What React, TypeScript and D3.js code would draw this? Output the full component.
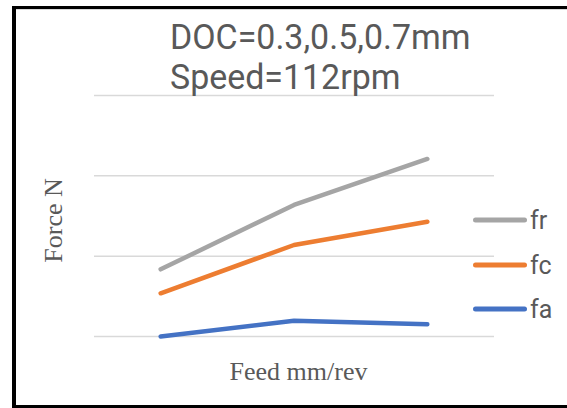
import React from "react";
import * as d3 from "d3";

// Feed levels (categorical x positions, no tick labels drawn)
const feeds = ["1", "2", "3"];

// Force series (N)
const frValues = [83.6, 163.7, 221];
const fcValues = [53.8, 113.9, 142.9];
const faValues = [0, 19.7, 15.2];

// Gridline values
const yTicks = [0, 100, 200, 300];

const seriesNames = ["fr", "fc", "fa"];
const seriesColors = ["#A5A5A5", "#ED7D31", "#4472C4"];

const W = 567;
const H = 408;

export default function App() {
  const x = d3.scalePoint<string>().domain(feeds).range([94, 494]).padding(0.5);
  const y = d3.scaleLinear().domain([0, 300]).range([336.5, 95.5]);

  const line = d3
    .line<number>()
    .x((_, i) => x(feeds[i]) as number)
    .y((v) => y(v));

  const series = [frValues, fcValues, faValues];
  const legendY = [220, 265, 309];
  const textColor = "#595959";
  const sans = "Roboto, 'Noto Sans', sans-serif";
  const serif = "'Liberation Serif', 'Times New Roman', serif";

  return (
    <svg
      width={W}
      height={H}
      style={{ position: "absolute", left: 0, top: 0, display: "block", background: "#fff" }}
    >
      {/* outer frame */}
      <line x1={12} x2={W} y1={9.5} y2={9.5} stroke="#D9D9D9" strokeWidth={1} />
      <line x1={12} x2={W} y1={7.5} y2={7.5} stroke="#000" strokeWidth={3} />
      <line x1={12} x2={W} y1={406.5} y2={406.5} stroke="#000" strokeWidth={3} />
      <line x1={14} x2={14} y1={6} y2={408} stroke="#000" strokeWidth={4} />

      {/* gridlines */}
      {yTicks.map((t) => (
        <line
          key={t}
          x1={94}
          x2={494}
          y1={y(t)}
          y2={y(t)}
          stroke="#D9D9D9"
          strokeWidth={1.5}
        />
      ))}

      {/* title */}
      <text
        x={170}
        y={49}
        fontFamily={sans}
        fontSize={35}
        fill={textColor}
        transform="translate(170,0) scale(0.97,1) translate(-170,0)"
      >
        DOC=0.3,0.5,0.7mm
      </text>
      <text
        x={170}
        y={89}
        fontFamily={sans}
        fontSize={35}
        fill={textColor}
        transform="translate(170,0) scale(0.97,1) translate(-170,0)"
      >
        Speed=112rpm
      </text>

      {/* series lines */}
      {series.map((vals, i) => (
        <path
          key={seriesNames[i]}
          d={line(vals) || ""}
          fill="none"
          stroke={seriesColors[i]}
          strokeWidth={4.5}
          strokeLinecap="round"
          strokeLinejoin="round"
        />
      ))}

      {/* axis titles */}
      <text
        x={298.5}
        y={380}
        textAnchor="middle"
        fontFamily={serif}
        fontSize={26}
        fill={textColor}
      >
        Feed mm/rev
      </text>
      <text
        transform="translate(62,220.5) rotate(-90)"
        textAnchor="middle"
        fontFamily={serif}
        fontSize={26}
        fill={textColor}
      >
        Force N
      </text>

      {/* legend */}
      {seriesNames.map((name, i) => (
        <g key={name}>
          <line
            x1={475.5}
            x2={524.5}
            y1={legendY[i]}
            y2={legendY[i]}
            stroke={seriesColors[i]}
            strokeWidth={5}
            strokeLinecap="round"
          />
          <text
            x={530}
            y={legendY[i] + 9}
            fontFamily={sans}
            fontSize={25}
            fill={textColor}
          >
            {name}
          </text>
        </g>
      ))}
    </svg>
  );
}
